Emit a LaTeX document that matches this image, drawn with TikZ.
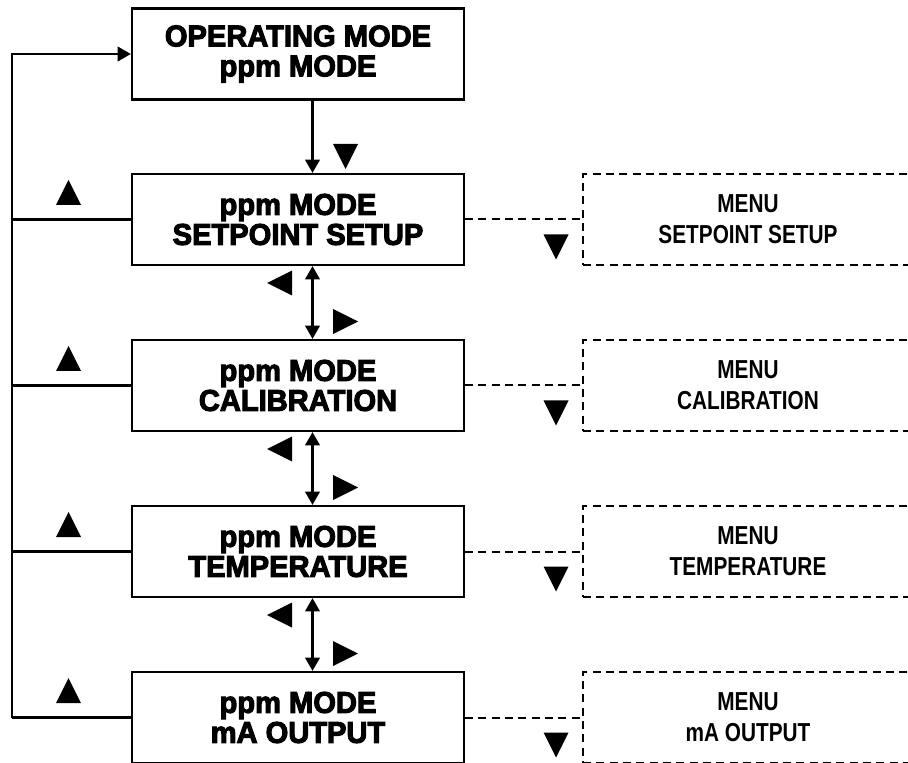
\documentclass[tikz,border=0pt]{standalone}
\usepackage{fontspec}
\usetikzlibrary{arrows.meta}
\setmainfont{Liberation Sans}
\newfontfamily\heavyfont{Liberation Sans Bold}[FakeBold=3.5,FakeStretch=0.97]
\newfontfamily\narrowfont{Liberation Sans}[BoldFeatures={FakeStretch=0.8}]
\newcommand{\keymark}[2]{\fill[shift={#1},rotate=#2] (-12.5,12.5) -- (12.5,12.5) -- (0,-12.5) -- cycle;}

\begin{document}
\begin{tikzpicture}[x=0.75pt,y=-0.75pt,line width=1.7pt,
  modebox/.style={draw,minimum width=249pt,minimum height=68.25pt,inner sep=0pt,align=center,
    font=\heavyfont\fontsize{22.5}{22.5}\selectfont},
  menubox/.style={draw,line width=1.5pt,dash pattern=on 6pt off 4pt,minimum width=247.5pt,minimum height=68.25pt,
    inner sep=0pt,align=center,font=\narrowfont\bfseries\fontsize{19.5}{23.25}\selectfont},
  link/.style={-{Triangle[length=10pt,width=11pt]}},
  twoway/.style={{Triangle[length=10pt,width=11pt]}-{Triangle[length=10pt,width=11pt]}},
  menulink/.style={line width=1.5pt,dash pattern=on 6pt off 4pt}]
  \useasboundingbox (0,0) rectangle (908,763);
  \clip (0,0) rectangle (908,763);
  \coordinate (rail) at (12,0);
  \coordinate (spine) at (312.5,0);

  % operating mode
  \node[modebox] (b1) at (298,54) {OPERATING MODE\\ppm MODE};
  \keymark{(345.5,156.5)}{180}

  % ppm mode screens and menus
  \foreach \n/\y/\txt in {2/219.5/SETPOINT SETUP,3/385.5/CALIBRATION,
                          4/551.5/TEMPERATURE,5/717.5/mA OUTPUT} {
    \node[modebox] (b\n) at (298,\y) {ppm MODE\\\txt};
    \node[menubox] (m\n) at (748,\y) {MENU\\\txt};
    \draw (b\n.west) -- (b\n.west -| rail);
    \draw[menulink] (b\n.east) -- (m\n.west);
    \keymark{(68.5,\y-27)}{0}
    \keymark{(556,\y+27.5)}{180}
  }

  % up/down between screens
  \draw[link] (b1.south -| spine) -- (b2.north -| spine);
  \foreach \a/\b/\y in {2/3/385.5,3/4/551.5,4/5/717.5} {
    \draw[twoway] (b\a.south -| spine) -- (b\b.north -| spine);
    \keymark{(279.5,\y-102.5)}{90}
    \keymark{(345.5,\y-64)}{-90}
  }

  % return to operating mode
  \draw[link] (b5.west -| rail) -- (b1.west -| rail) -- (b1.west);
\end{tikzpicture}
\end{document}
